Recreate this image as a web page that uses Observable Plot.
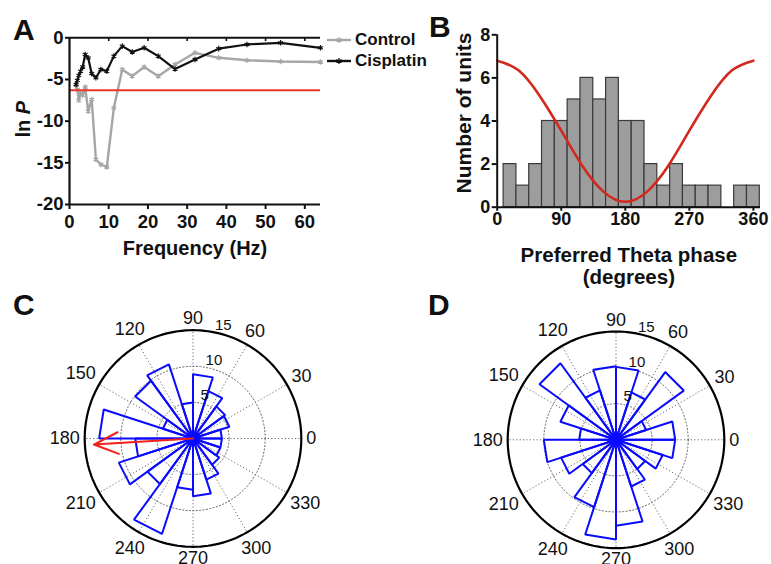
<!DOCTYPE html>
<html><head><meta charset="utf-8">
<script src="https://cdn.jsdelivr.net/npm/d3@7"></script>
<script src="https://cdn.jsdelivr.net/npm/@observablehq/plot@0.6"></script>
<style>
body{margin:0;background:#fff;}
#root{position:relative;width:771px;height:564px;overflow:hidden;font-family:"Liberation Sans",Arial,sans-serif;color:#111;}
.panel{position:absolute;}
.panel svg{overflow:visible;background:transparent;}
.letter{position:absolute;font-weight:bold;font-size:30px;line-height:30px;}
.leg{position:absolute;left:326px;height:20px;display:flex;align-items:center;font-weight:bold;font-size:17px;}
.leg svg{margin-right:3px;}
</style></head><body><div id="root"></div>
<script>
// ---------- Panel A data ----------
const freqHz = [1.68, 2, 2.38, 2.83, 3.36, 4, 4.76, 5.66, 6.73, 8, 9.51, 11.31, 13.45, 16, 19.03, 22.63, 26.91, 32, 38.05, 45.25, 53.82, 64];
const controlLnP = [-5.7, -6.2, -7.5, -6.6, -6.9, -5.9, -8.8, -7.4, -14.6, -15.2, -15.5, -8.4, -3.8, -4.6, -3.5, -4.6, -3.2, -1.8, -2.4, -2.7, -2.85, -2.9];
const cisplatinLnP = [-5.6, -5.1, -4.5, -4.0, -3.5, -2.0, -2.4, -4.3, -4.8, -3.8, -4.0, -2.2, -1.0, -1.7, -1.2, -2.2, -3.75, -2.6, -1.3, -0.8, -0.6, -1.2];
const thresholdLnP = [-6.3];
const xTicksA = [0, 10, 20, 30, 40, 50, 60];
const yTicksA = [0, -5, -10, -15, -20];
const seriesNames = ["Control", "Cisplatin"];

// ---------- Panel B data ----------
const phaseBinCenters = [18, 36, 54, 72, 90, 108, 126, 144, 162, 180, 198, 216, 234, 252, 270, 288, 306, 324, 342, 360];
const unitCounts = [2, 1, 2, 4, 4, 5, 6, 5, 6, 4, 4, 2, 1, 2, 1, 1, 1, 0, 1, 1];
const fitPhase = [0, 30, 60, 90, 120, 150, 180, 210, 240, 270, 300, 330, 360];
const fitCount = [6.8, 6.35, 5.15, 3.55, 1.9, 0.7, 0.25, 0.7, 1.9, 3.55, 5.15, 6.35, 6.8];
const xTicksB = [0, 90, 180, 270, 360];
const yTicksB = [0, 2, 4, 6, 8];

// ---------- Panels C / D data ----------
const roseBinStart = [0, 18, 36, 54, 72, 90, 108, 126, 144, 162, 180, 198, 216, 234, 252, 270, 288, 306, 324, 342];
const roseC = [4.0, 5.3, 5.5, 6.9, 8.9, 5.0, 10.8, 9.9, 4.4, 13.0, 8.0, 10.8, 7.8, 13.9, 7.1, 8.0, 6.0, 4.5, 4.0, 4.0];
const roseD = [8.2, 4.4, 11.6, 6.9, 10.1, 10.2, 7.2, 13.1, 8.1, 5.1, 10.0, 8.0, 5.7, 9.8, 13.8, 11.9, 6.8, 5.0, 6.8, 8.2];
const meanVectorC = [{angle: 183.5, length: 13.75}];
const polarRings = [5, 10];
const polarMax = 15;
const spokeAngles = [0, 30, 60, 90, 120, 150, 180, 210, 240, 270, 300, 330];

const FONT = "'Liberation Sans', Arial, sans-serif";
const rad = d => d * Math.PI / 180;
const root = document.getElementById("root");

function place(node, left, top) {
  const d = document.createElement("div");
  d.className = "panel";
  d.style.left = left + "px"; d.style.top = top + "px";
  d.appendChild(node);
  root.appendChild(d);
}

// ---------- Panel A ----------
const ctrl = freqHz.map((f, i) => ({f, v: controlLnP[i]}));
const cis = freqHz.map((f, i) => ({f, v: cisplatinLnP[i]}));
const grayA = "#a6a6a6", blackA = "#111";
const plotA = Plot.plot({
  width: 400, height: 270,
  marginLeft: 69, marginRight: 80, marginTop: 37.3, marginBottom: 66,
  x: {domain: [0, 64]}, y: {domain: [-20, 0]},
  style: {fontFamily: FONT, fontSize: "18.5px", fontWeight: "bold", background: "transparent", color: "#111", overflow: "visible"},
  marks: [
    Plot.line(ctrl, {x: "f", y: "v", stroke: grayA, strokeWidth: 2.4}),
    Plot.dot(ctrl, {x: "f", y: "v", symbol: "asterisk", r: 2.6, stroke: grayA, strokeWidth: 1.2}),
    Plot.line(cis, {x: "f", y: "v", stroke: blackA, strokeWidth: 2.2}),
    Plot.dot(cis, {x: "f", y: "v", symbol: "asterisk", r: 2.6, stroke: blackA, strokeWidth: 1.2}),
    Plot.ruleY(thresholdLnP, {x1: 0, x2: 64, stroke: "#e8342a", strokeWidth: 2}),
    Plot.ruleX([0], {y1: -20, y2: 0, strokeWidth: 2.2}),
    Plot.ruleY([-20], {x1: 0, x2: 64, strokeWidth: 2.2}),
    Plot.ruleY([0], {x1: 0, x2: 64, strokeWidth: 2}),
    Plot.ruleX(xTicksA.filter(d => d > 0), {y1: 0, y2: -0.45, strokeWidth: 1.6}),
    Plot.axisX({ticks: xTicksA, tickSize: 5, tickPadding: 5, strokeWidth: 2, tickFormat: d => String(d), label: null}),
    Plot.axisY({ticks: yTicksA, tickSize: 4, tickPadding: 2, strokeWidth: 2, tickFormat: d => String(d), label: null}),
    Plot.text(["Frequency (Hz)"], {text: d => d, frameAnchor: "bottom", textAnchor: "middle", lineAnchor: "middle", dy: 44, fontSize: 20}),
    Plot.text(["ln"], {text: d => d, frameAnchor: "left", rotate: -90, textAnchor: "start", lineAnchor: "middle", dx: -46, dy: 16.4, fontSize: 20}),
    Plot.text(["P"], {text: d => d, frameAnchor: "left", rotate: -90, textAnchor: "end", lineAnchor: "middle", fontStyle: "italic", dx: -46, dy: -20.3, fontSize: 20})
  ]
});

// ---------- Panel B ----------
const bars = phaseBinCenters.map((c, i) => ({c, n: unitCounts[i]})).filter(d => d.n > 0);
const fit = fitPhase.map((p, i) => ({p, n: fitCount[i]}));
const plotB = Plot.plot({
  width: 371, height: 290,
  marginLeft: 96.7, marginRight: 11, marginTop: 34.3, marginBottom: 83.3,
  x: {domain: [0, 370]}, y: {domain: [0, 8]},
  style: {fontFamily: FONT, fontSize: "18px", fontWeight: "bold", background: "transparent", color: "#111", overflow: "visible"},
  marks: [
    Plot.rectY(bars, {x1: d => d.c - 9, x2: d => d.c + 9, y: "n", fill: "#9d9d9d", stroke: "#3a3a3a", strokeWidth: 1.2}),
    Plot.line(fit, {x: "p", y: "n", stroke: "#d3281e", strokeWidth: 2.6, curve: "natural"}),
    Plot.ruleX([0], {y1: 0, y2: 8, strokeWidth: 2}),
    Plot.ruleY([0], {x1: 0, x2: 370, strokeWidth: 2}),
    Plot.axisX({ticks: xTicksB, tickSize: 4, tickPadding: 1, strokeWidth: 2, tickFormat: d => String(d), label: null}),
    Plot.axisY({ticks: yTicksB, tickSize: 5, tickPadding: 2, strokeWidth: 2, tickFormat: d => String(d), label: null}),
    Plot.text(["Number of units"], {text: d => d, frameAnchor: "left", rotate: -90, textAnchor: "middle", lineAnchor: "middle", dx: -33.4, dy: -8, fontSize: 21}),
    Plot.text(["Preferred Theta phase"], {text: d => d, frameAnchor: "bottom", textAnchor: "middle", lineAnchor: "middle", dy: 48.5, fontSize: 20.5}),
    Plot.text(["(degrees)"], {text: d => d, frameAnchor: "bottom", textAnchor: "middle", lineAnchor: "middle", dy: 70.5, fontSize: 20.5})
  ]
});

// ---------- Panels C / D ----------
function rosePlot(counts, arrows, W, H, ml, mr, mt, mb) {
  const R = 108.3, ppu = R / polarMax;
  const petals = [];
  roseBinStart.forEach((a, i) => {
    const r = counts[i], a1 = rad(a), a2 = rad(a + 18);
    petals.push({k: i, x: 0, y: 0},
      {k: i, x: r * Math.cos(a1), y: r * Math.sin(a1)},
      {k: i, x: r * Math.cos(a2), y: r * Math.sin(a2)},
      {k: i, x: 0, y: 0});
  });
  const ring = rr => d3.range(0, 361, 2).map(t => ({r: rr, x: rr * Math.cos(rad(t)), y: rr * Math.sin(rad(t))}));
  const rings = polarRings.flatMap(ring);
  const outer = ring(polarMax);
  const spokes = spokeAngles.map(a => ({x: polarMax * Math.cos(rad(a)), y: polarMax * Math.sin(rad(a))}));
  const fs = 18;
  const angleLabels = spokeAngles.map(a => {
    const t = String(a);
    const halfW = t.length * fs * 0.556 / 2, halfH = fs * 0.36;
    const off = 5 + halfW * Math.abs(Math.cos(rad(a))) + halfH * Math.abs(Math.sin(rad(a)));
    const r = (R + off) / ppu;
    return {t, x: r * Math.cos(rad(a)), y: r * Math.sin(rad(a))};
  });
  const radialLabels = [...polarRings, polarMax].map(v => {
    const r = v + 1.2, a = rad(75);
    return {t: String(v), x: r * Math.cos(a), y: r * Math.sin(a)};
  });
  const marks = [
    Plot.link(spokes, {x1: 0, y1: 0, x2: "x", y2: "y", stroke: "#6a6a6a", strokeWidth: 1, strokeDasharray: "1.2,2.2"}),
    Plot.line(rings, {x: "x", y: "y", z: "r", stroke: "#6a6a6a", strokeWidth: 1, strokeDasharray: "1.2,2.2"}),
    Plot.line(outer, {x: "x", y: "y", stroke: "#000", strokeWidth: 2.2}),
    Plot.line(petals, {x: "x", y: "y", z: "k", stroke: "#0a0aff", strokeWidth: 2, strokeLinejoin: "miter"}),
    Plot.text(angleLabels, {x: "x", y: "y", text: "t", fontSize: fs, fill: "#111"}),
    Plot.text(radialLabels, {x: "x", y: "y", text: "t", fontSize: 15, fill: "#111"})
  ];
  if (arrows) {
    marks.push(Plot.arrow(arrows, {
      x1: 0, y1: 0,
      x2: d => d.length * Math.cos(rad(d.angle)), y2: d => d.length * Math.sin(rad(d.angle)),
      stroke: "#f0201a", strokeWidth: 2, headLength: 20, headAngle: 48
    }));
  }
  return Plot.plot({
    width: W, height: H, marginLeft: ml, marginRight: mr, marginTop: mt, marginBottom: mb,
    x: {domain: [-polarMax, polarMax], axis: null},
    y: {domain: [-polarMax, polarMax], axis: null},
    style: {fontFamily: FONT, fontWeight: "normal", background: "transparent", color: "#111", overflow: "visible"},
    marks
  });
}
const plotC = rosePlot(roseC, meanVectorC, 390, 274, 84.2, 89.2, 39.7, 17.7);
const plotD = rosePlot(roseD, null, 381, 274, 117.2, 47.2, 41, 16.4);

place(plotB, 400, 0);
place(plotA, 0, 0);
place(plotC, 0, 290);
place(plotD, 390, 290);

// ---------- legend (panel A) ----------
[[seriesNames[0], grayA, 30], [seriesNames[1], blackA, 50.5]].forEach(([name, col, top]) => {
  const d = document.createElement("div");
  d.className = "leg";
  d.style.top = top + "px";
  d.innerHTML = `<svg width="26" height="20"><line x1="1" x2="25" y1="10" y2="10" stroke="${col}" stroke-width="2.4"/>` +
    `<path d="M13,7v6M10.4,8.5l5.2,3M10.4,11.5l5.2,-3" stroke="${col}" stroke-width="1.2"/></svg><span>${name}</span>`;
  root.appendChild(d);
});

// ---------- panel letters ----------
[["A", 13, 14.6], ["B", 429, 11.9], ["C", 13, 289.6], ["D", 428, 289.6]].forEach(([t, l, tp]) => {
  const d = document.createElement("div");
  d.className = "letter";
  d.style.left = l + "px"; d.style.top = tp + "px";
  d.textContent = t;
  root.appendChild(d);
});
</script></body></html>
